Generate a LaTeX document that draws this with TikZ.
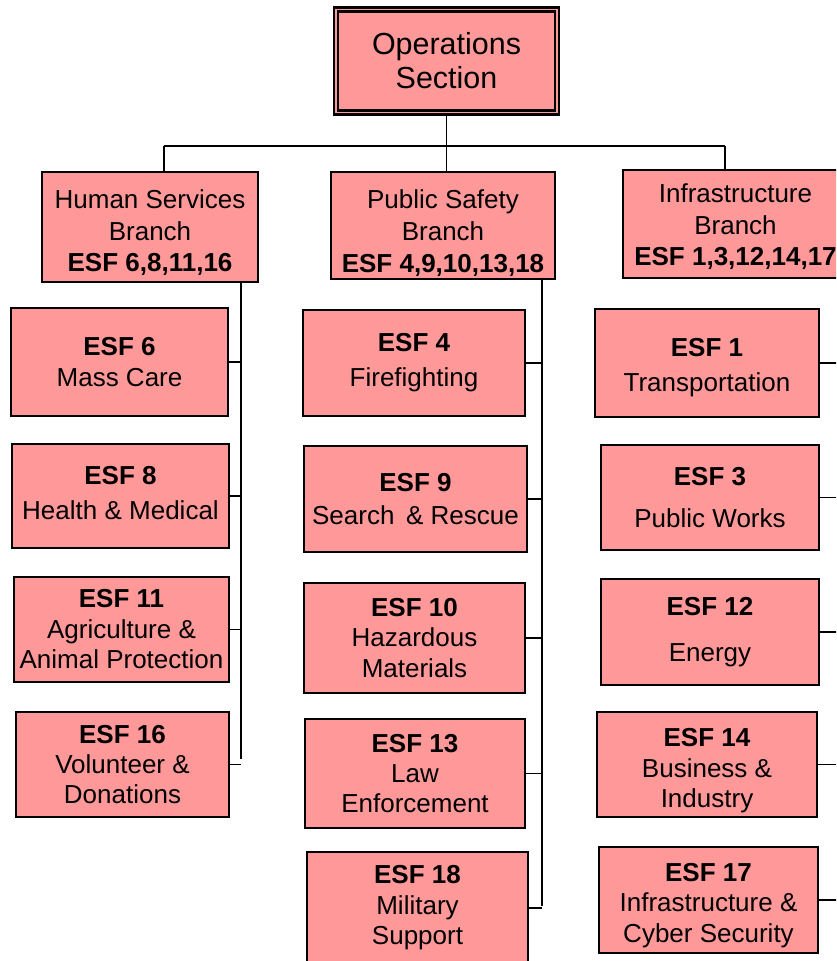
\documentclass[tikz,border=0pt]{standalone}
\usepackage{fontspec}
\setmainfont{Liberation Sans}
\definecolor{pinkfill}{HTML}{FF9999}
\tikzset{
  esfbox/.style={draw=black, line width=2.3pt, fill=pinkfill, inner sep=0pt, align=center,
    font=\fontsize{22.2}{26}\selectfont},
  branchbox/.style={esfbox, font=\fontsize{22.2}{27}\selectfont},
  opsbox/.style={draw=black, line width=2.1pt, double=pinkfill, double distance=1.2pt,
    fill=pinkfill, inner sep=0pt, align=center, font=\fontsize{26}{29}\selectfont},
  link/.style={draw=black, line width=1pt}
}
% box from corner (x1,y1) to (x2,y2), in pixel units
\newcommand\pxbox[7]{\node[#1, minimum width={(#5-#3)*0.03cm}, minimum height={(#6-#4)*0.03cm}]
  (#2) at ({(#3+#5)/2},{(#4+#6)/2}) {#7};}
% invisible strut that raises the top of the first line (moves text down)
\newcommand\topstrut[1]{\rule{0pt}{#1}}
\begin{document}
\begin{tikzpicture}[x=0.03cm, y=-0.03cm]
\useasboundingbox (0,0) rectangle (836,961);
\clip (0,0) rectangle (836,961);
% coordinates for the trunks
\coordinate (hl) at (241,759);
\coordinate (pl) at (542,906);
\coordinate (il) at (846,897);
\coordinate (hz) at (164,146);
\coordinate (iz) at (725,146);
% top
\pxbox{opsbox}{ops}{336}{9.5}{557}{112.5}{Operations\\Section}
% branches
\pxbox{branchbox}{hsb}{42}{172}{258}{282}{\topstrut{26pt}Human Services\\Branch\\\textbf{ESF 6,8,11,16}}
\pxbox{branchbox}{psb}{331}{172}{555}{279}{\topstrut{29pt}Public Safety\\Branch\\\textbf{ESF 4,9,10,13,18}}
\pxbox{branchbox}{ifb}{623}{170}{848}{278}{\topstrut{21pt}Infrastructure\\Branch\\\textbf{ESF 1,3,12,14,17}}
% left column
\pxbox{esfbox}{e6}{11}{308}{228}{416}{\textbf{ESF 6}\\Mass Care}
\pxbox{esfbox}{e8}{12}{444}{229}{548}{\textbf{ESF 8}\\[4pt]Health \& Medical\rule[-5pt]{0pt}{0pt}}
\pxbox{esfbox}{e11}{14}{577}{229}{682}{\textbf{ESF 11}\\Agriculture \&\\Animal Protection}
\pxbox{esfbox}{e16}{16}{712}{229}{817}{\textbf{ESF 16}\\Volunteer \&\\Donations}
% middle column
\pxbox{esfbox}{e4}{303}{310}{525}{416}{\textbf{ESF 4}\\[4pt]Firefighting}
\pxbox{esfbox}{e9}{304}{446}{527}{552}{\textbf{ESF 9}\\[2pt]Search \,\& Rescue}
\pxbox{esfbox}{e10}{304}{583}{525}{693}{\textbf{ESF 10}\\Hazardous\\Materials}
\pxbox{esfbox}{e13}{305}{719}{525}{828}{\textbf{ESF 13}\\Law\\Enforcement}
\pxbox{esfbox}{e18}{307}{852}{528}{964}{\textbf{ESF 18}\\Military\\Support}
% right column
\pxbox{esfbox}{e1}{595}{309}{819}{417}{\topstrut{23pt}\textbf{ESF 1}\\[4pt]Transportation}
\pxbox{esfbox}{e3}{601}{445}{819}{550}{\textbf{ESF 3}\\[10pt]Public Works}
\pxbox{esfbox}{e12}{601}{579}{819}{685}{\textbf{ESF 12}\\[13pt]Energy}
\pxbox{esfbox}{e14}{597}{712}{817}{817}{\topstrut{26pt}\textbf{ESF 14}\\Business \&\\Industry}
\pxbox{esfbox}{e17}{599}{847}{818}{953}{\topstrut{24.5pt}\textbf{ESF 17}\\Infrastructure \&\\Cyber Security}
% connectors from top
\draw[link] (ops.south) -- (ops.south |- psb.north);
\draw[link] (hz) -- (iz);
\draw[link] (hz) -- (hz |- hsb.north);
\draw[link] (iz) -- (iz |- ifb.north);
% left trunk
\draw[link] (hsb.south -| hl) -- (hl);
\foreach \b in {e6,e8,e11,e16} \draw[link] (\b.east) -- (\b.east -| hl);
% middle trunk
\draw[link] (psb.south -| pl) -- (pl);
\foreach \b in {e4,e9,e10,e13,e18} \draw[link] (\b.east) -- (\b.east -| pl);
% right trunk
\draw[link] (ifb.south -| il) -- (il);
\foreach \b in {e1,e3,e12,e14,e17} \draw[link] (\b.east) -- (\b.east -| il);
\end{tikzpicture}
\end{document}
